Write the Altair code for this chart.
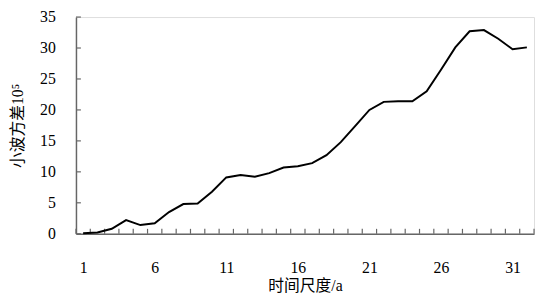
import altair as alt
import pandas as pd

# Data
scale = list(range(1, 33))
variance = [0.1, 0.2, 0.8, 2.2, 1.4, 1.7, 3.5, 4.8, 4.9, 6.8,
            9.1, 9.5, 9.2, 9.8, 10.7, 10.9, 11.4, 12.7, 14.8, 17.4,
            20.0, 21.3, 21.4, 21.4, 23.0, 26.5, 30.1, 32.7, 32.9, 31.5,
            29.8, 30.1]
x_label_values = [1, 6, 11, 16, 21, 26, 31]
y_tick_values = [0, 5, 10, 15, 20, 25, 30, 35]
x_boundaries = [0.5, 1.5, 2.5, 3.5, 4.5, 5.5, 6.5, 7.5, 8.5, 9.5, 10.5,
                11.5, 12.5, 13.5, 14.5, 15.5, 16.5, 17.5, 18.5, 19.5, 20.5,
                21.5, 22.5, 23.5, 24.5, 25.5, 26.5, 27.5, 28.5, 29.5, 30.5,
                31.5, 32.5]

W, H = 465, 220
AX = "#666666"
NUMFONT = "Times New Roman, Liberation Serif, serif"
TFONT = "Times New Roman, Liberation Serif, Noto Sans CJK SC, serif"
XTITLE = "时间尺度/a"
YTITLE = "小波方差10⁵"

df = pd.DataFrame({"scale": scale, "variance": variance})

xscale = alt.Scale(domain=[0.5, 32.5], nice=False, zero=False)
yscale = alt.Scale(domain=[0, 35], nice=False)

xaxis = alt.Axis(values=x_label_values, title=XTITLE, grid=False, ticks=False,
                 tickSize=0, labelPadding=26, domainColor=AX, domainWidth=1.5,
                 titleY=53, titleBaseline="middle", labelFontSize=16,
                 titleFontSize=16, labelColor="black", titleColor="black",
                 titleFontWeight="normal", labelFont=NUMFONT, titleFont=TFONT)
yaxis = alt.Axis(values=y_tick_values, title=YTITLE, grid=False, ticks=False,
                 tickSize=0, labelPadding=21, domainColor=AX, domainWidth=1.5,
                 titleX=-59, titleBaseline="middle", labelFontSize=16,
                 titleFontSize=16, labelColor="black", titleColor="black",
                 titleFontWeight="normal", labelFont=NUMFONT, titleFont=TFONT)

line = alt.Chart(df).mark_line(color="black", strokeWidth=2).encode(
    x=alt.X("scale:Q", scale=xscale, axis=xaxis),
    y=alt.Y("variance:Q", scale=yscale, axis=yaxis),
)

xticks = alt.Chart(pd.DataFrame({"scale": x_boundaries})).mark_rule(
    color=AX, strokeWidth=1.2
).encode(
    x=alt.X("scale:Q", scale=xscale, axis=xaxis),
    y=alt.value(H),
    y2=alt.value(H - 5),
)

yticks = alt.Chart(pd.DataFrame({"variance": y_tick_values})).mark_rule(
    color=AX, strokeWidth=1.2
).encode(
    y=alt.Y("variance:Q", scale=yscale, axis=yaxis),
    x=alt.value(0),
    x2=alt.value(5),
)

chart = alt.layer(xticks, yticks, line).properties(
    width=W,
    height=H,
    autosize="none",
    padding={"left": 69, "top": 7, "right": 2, "bottom": 62},
).configure_view(stroke=None).configure(font=TFONT, background="white")

chart.save("out.html", embed_options={"renderer": "svg", "actions": False})
